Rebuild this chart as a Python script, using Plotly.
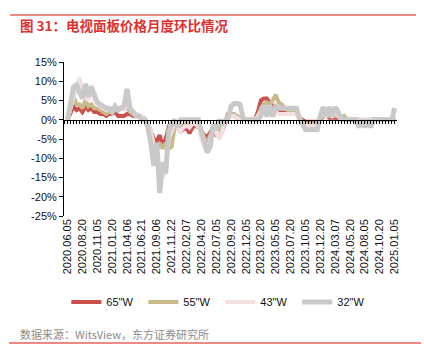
import plotly.graph_objects as go

# categories: half-monthly dates 2020.06.05 .. 2025.01.05 (111 points)
dates = []
for y in range(2020, 2026):
    for m in range(1, 13):
        for d in ("05", "20"):
            s = f"{y}.{m:02d}.{d}"
            if "2020.06.05" <= s <= "2025.01.05":
                dates.append(s)

tick_labels = ["2020.06.05", "2020.08.20", "2020.11.05", "2021.01.20", "2021.04.06",
               "2021.06.21", "2021.09.06", "2021.11.22", "2022.02.07", "2022.04.20",
               "2022.07.05", "2022.09.20", "2022.12.05", "2023.02.20", "2023.05.05",
               "2023.07.20", "2023.10.05", "2023.12.20", "2024.03.07", "2024.05.20",
               "2024.08.05", "2024.10.20", "2025.01.05"]
tick_pos = [0, 5, 10, 15, 20, 25, 30, 35, 40, 45, 50, 55, 60, 65, 70, 75, 80, 85,
            90, 95, 100, 105, 110]

tv65 = [0, 2, 3.5, 2.5, 3, 2, 3.5, 2.5, 3, 2,
        2, 1.5, 1.5, 1, 1.5, 1.5, 2, 1, 1, 1,
        1.5, 1.5, 1, 1.5, 1, 0.5, 0, -1, -3, -5,
        -5.5, -4, -7, -5, -2, -2.5, -1, -2, -3, -2.5,
        -2, -3.5, -2, -1.5, -2, -3, -4, -4.5, -3, -2,
        -4, -4.5, -3, -0.5, 1.5, 1.5, 1, 0.5, 0.5, 0,
        0, 0, 0, 0, 2, 5, 5.5, 5.5, 4.5, 3.5,
        3, 2.5, 2, 2, 2, 2, 2, 2, 0.5, 0,
        -0.5, -0.5, -0.5, -0.5, -0.5, 0, 1, 1, 0.5, 0.5,
        0.5, 0.5, 0, 0, 0, 0, 0, 0, 0, -0.5,
        -1, -0.5, 0, 0, 0, 0, 0, 0, 0, 0,
        0.5]

tv55 = [0, 3, 6, 4, 4, 3, 5, 3.5, 4, 3,
        3, 2.5, 2, 1.5, 2, 2, 2.5, 3, 3, 3.5,
        3, 2, 1.5, 1, 1, 0.5, 0, -1, -3, -6,
        -8, -6, -7.5, -6, -7.5, -7, -2, -1, -2, -1.5,
        -1, -2, -1, -1, -1, -3, -5, -5.5, -4, -1.5,
        -2, -2.5, -1, 0, 1, 1.5, 1.5, 1, 0.5, 0,
        0, 0, 0, 0, 1, 3, 4, 4.5, 4, 5,
        6.5, 4.5, 4, 3, 2.5, 2.5, 2.5, 2.5, 0.5, -0.5,
        -1, -1, -1, -1, -1, 0.5, 1, 1, 1, 1,
        1, 1, 0.5, 1, 0, 0, 0, 0, 0, 0,
        0, 0, 0, 0, 0, 0, 0, 0, 0, 0,
        1]

tv43 = [0, 3, 6, 7, 11, 6, 6, 5, 9, 5,
        4, 3.5, 3, 2.5, 3, 3, 3, 2.5, 3, 2.5,
        4, 3, 2, 1.5, 1, 1, 0.5, -1, -3, -7,
        -9, -12, -15, -13, -5, -3, -1, -2, -3, -2,
        -1.5, -2, -1, -1, -2, -5, -7, -8, -5, -2,
        -3.5, -5, -3, 0, 0.5, 1, 1, 0.5, 0, 0,
        0, 0, 0, 0, 1, 2, 2.5, 3, 2, 2.5,
        2, 1.5, 1.5, 1.5, 1.5, 1.5, 1.5, 1.5, 0, -1,
        -1.5, -1.5, -1.5, -1.5, -1.5, 0.5, 2, 1, 2, 1,
        2, 1, 0, 0, 0, 0, 0, 0, 0, 0,
        0, 0, 0, 0, 0, 0, 0, 0, 0, 0,
        1]

tv32 = [0, 4, 8.5, 9, 7.5, 5.5, 9.3, 6, 8.5, 6,
        4.5, 4, 3.5, 3, 3, 2, 3.5, 2.5, 3, 3.5,
        8, 3, 2, 1, 1, 0, 0, -2, -6, -12,
        -6, -19, -11, -14, -3, -1, 0, -2, 0, 0,
        0, 0, 0, 0, 0, -3, -6, -8.5, -7, -1,
        -2.5, 0, -1, 0, 0.5, 3.5, 4.2, 4.2, 4, 0.5,
        0, 0, 0, 0, 0, 1, 3.8, 0.8, 3.8, 0.8,
        3.5, 3, 3, 3, 3, 3, 3, 3, 0.3, -1.5,
        -2.5, -2.5, -2.5, -2.5, -2.5, 1, 3.3, 1, 3.3, 1,
        3.3, 2, 0.5, 0, 0, 0, 0, 0, -2, 0,
        -2, 0, -2, 0, 0, 0, 0, 0, 0, 0,
        3]

series = [("65\"W", tv65, "#C9504B", 4),
          ("55\"W", tv55, "#C9B98B", 4),
          ("43\"W", tv43, "#F4E0E1", 4),
          ("32\"W", tv32, "#C9C9C9", 5)]

FONT = "Liberation Sans, Arial, Noto Sans CJK SC"

fig = go.Figure()
idx = list(range(len(dates)))
for name, vals, color, w in series:
    fig.add_trace(go.Scatter(x=idx, y=vals, mode="lines", name=name,
                             line=dict(color=color, width=w),
                             customdata=dates, hovertemplate="%{customdata}: %{y}%"))

# invisible trace to activate the zero-line axis
fig.add_trace(go.Scatter(x=[0], y=[0], xaxis="x2", mode="markers",
                         marker=dict(opacity=0), showlegend=False, hoverinfo="skip"))

xr = [-1.2, 110.8]
fig.update_layout(
    width=424, height=362,
    margin=dict(l=64, r=27, t=62, b=146, autoexpand=False),
    paper_bgcolor="white", plot_bgcolor="white",
    font=dict(family=FONT, size=11, color="#222"),
    showlegend=True,
    legend=dict(orientation="h", x=0.007, y=-0.558, xanchor="left", yanchor="middle",
                font=dict(size=11, color="#111"), entrywidth=32, entrywidthmode="pixels",
                itemwidth=30, tracegroupgap=0, bgcolor="rgba(0,0,0,0)"),
    xaxis=dict(range=xr, tickmode="array", tickvals=tick_pos, ticktext=tick_labels,
               tickangle=-90, showline=False, ticks="", showgrid=False, zeroline=False,
               automargin=False, tickfont=dict(size=11, color="#111")),
    xaxis2=dict(range=xr, overlaying="x", anchor="free", position=0.625, side="bottom",
                tickmode="linear", tick0=0, dtick=1, ticks="outside", ticklen=3,
                tickcolor="#000", showticklabels=False, showline=True, linecolor="#000",
                linewidth=1, showgrid=False, zeroline=False, automargin=False),
    yaxis=dict(range=[-25, 15], tickmode="array", tickvals=[-25, -20, -15, -10, -5, 0, 5, 10, 15],
               ticktext=["-25%", "-20%", "-15%", "-10%", "-5%", "0%", "5%", "10%", "15%"],
               showline=True, linecolor="#000", linewidth=1, ticks="outside", ticklen=4,
               tickcolor="#000", showgrid=False, zeroline=False, automargin=False,
               tickfont=dict(size=11, color="#111")),
)

fig.add_annotation(text="<b>图 31：电视面板价格月度环比情况</b>", xref="paper", yref="paper",
                   x=-0.138, y=1.24, xanchor="left", yanchor="middle", showarrow=False,
                   font=dict(size=13.5, color="#E0312F", family="Noto Sans CJK SC"))
fig.add_annotation(text="数据来源：WitsView，东方证券研究所", xref="paper", yref="paper",
                   x=-0.138, y=-0.766, xanchor="left", yanchor="middle", showarrow=False,
                   font=dict(size=11, color="#8C8C8C", family="Noto Sans CJK SC"))
fig.add_shape(type="line", xref="paper", yref="paper", x0=-0.162, x1=1.057, y0=1.305, y1=1.305,
              line=dict(color="#E8615C", width=1.5))
fig.add_shape(type="line", xref="paper", yref="paper", x0=-0.165, x1=1.072, y0=-0.825, y1=-0.825,
              line=dict(color="#E8615C", width=1.5))

fig.write_html("out.html", config={"displayModeBar": False},
               post_script="document.body.style.margin='0';")
